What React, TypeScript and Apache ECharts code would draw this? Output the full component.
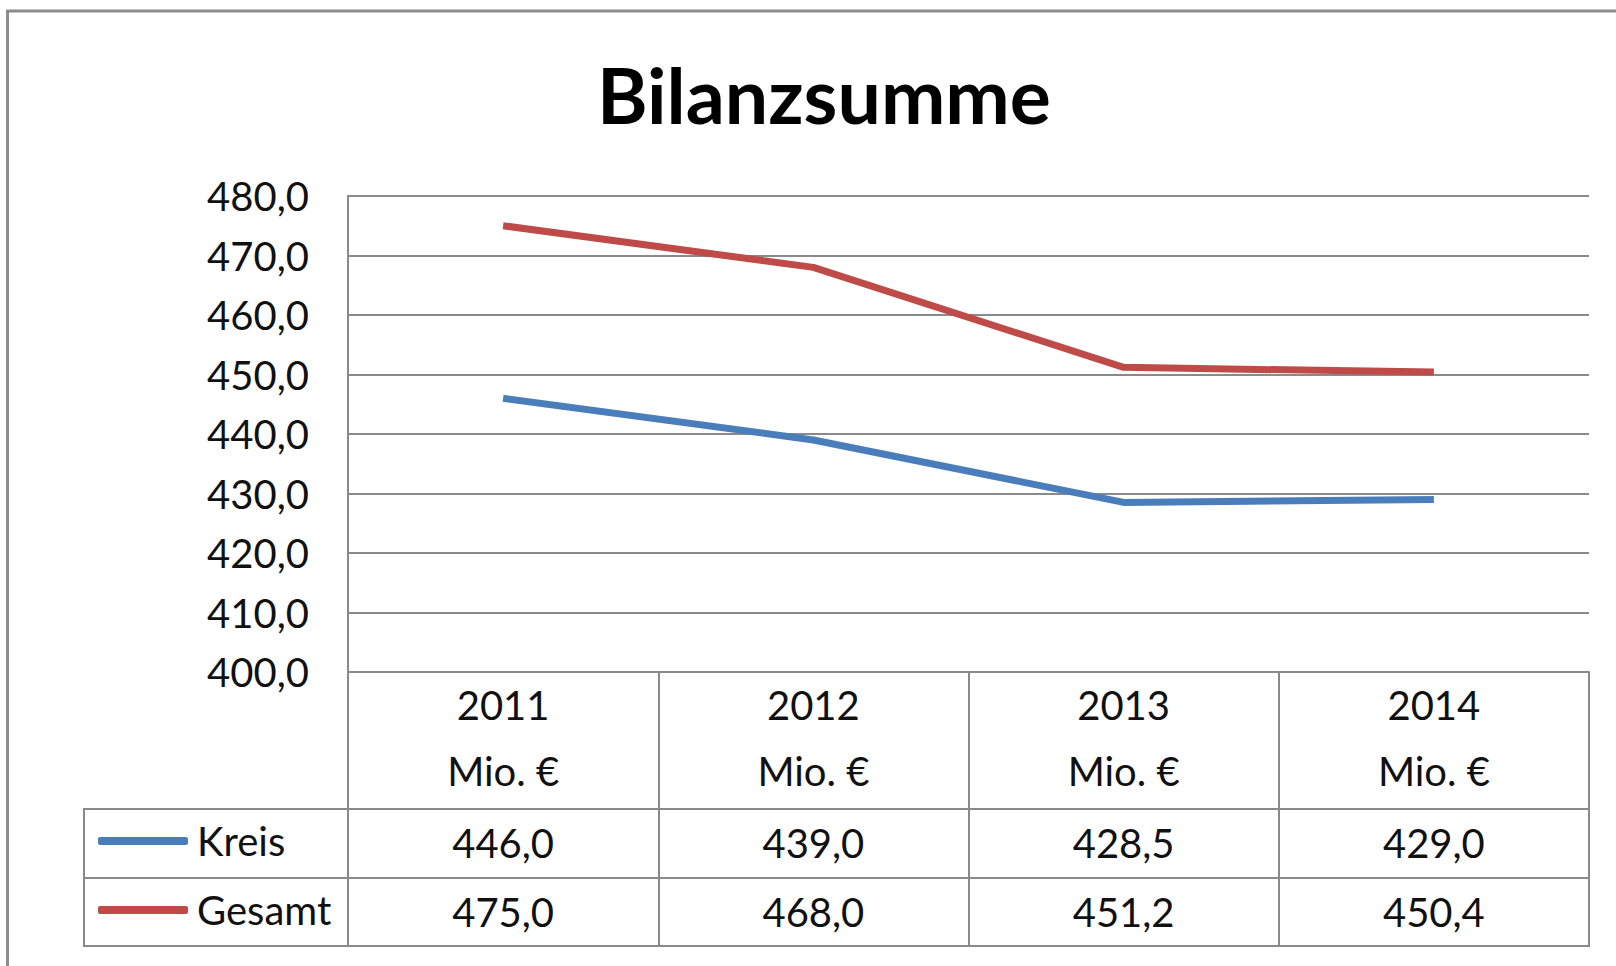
import React, { useEffect, useRef } from "react";
import * as echarts from "echarts";

const years = ["2011", "2012", "2013", "2014"];
const unit = "Mio. €";
const kreis = [446.0, 439.0, 428.5, 429.0];
const gesamt = [475.0, 468.0, 451.2, 450.4];
const seriesNames = ["Kreis", "Gesamt"];
const yMin = 400;
const yMax = 480;
const yStep = 10;

const fmt = (v: number) => v.toFixed(1).replace(".", ",");

const FONT = "Lato";
const GRAY = "#8a8a8a";
const TXT = "#111111";
const BLUE = "#4A7EBB";
const RED = "#BE4B48";
const FS = 40;

export default function App() {
  const ref = useRef<HTMLDivElement>(null);
  useEffect(() => {
    if (!ref.current) return;
    const chart = echarts.init(ref.current, null, { renderer: "svg" });
    const gridLeft = 348;
    const gridRight = 1589;
    const gridTop = 196;
    const gridBottom = 672;
    const rowTop = 809;
    const rowMid = 878;
    const rowBottom = 946;
    const tableLeft = 84;
    chart.setOption({
      animation: false,
      backgroundColor: "#ffffff",
      title: {
        text: "Bilanzsumme",
        left: 819,
        textAlign: "center",
        top: 50,
        textStyle: { fontFamily: FONT, fontWeight: "bold", fontSize: 77, color: "#000" },
      },
      grid: {
        left: gridLeft,
        top: gridTop,
        width: gridRight - gridLeft,
        height: gridBottom - gridTop,
        containLabel: false,
      },
      legend: {
        orient: "vertical",
        left: 98,
        top: 819,
        padding: 0,
        itemWidth: 90,
        itemHeight: 8,
        itemGap: 25,
        icon: "roundRect",
        data: seriesNames,
        textStyle: { fontFamily: FONT, fontSize: FS, color: TXT, lineHeight: 44, padding: [0, 0, 0, 4] },
      },
      xAxis: [
        {
          type: "category",
          data: years,
          position: "bottom",
          boundaryGap: true,
          axisLine: { show: true, lineStyle: { color: GRAY, width: 2 } },
          axisTick: { show: true, interval: 0, length: rowBottom - gridBottom, lineStyle: { color: GRAY, width: 2 } },
          axisLabel: {
            interval: 0,
            margin: 0,
            formatter: (v: string) => `{y|${v}}\n{m|${unit}}`,
            rich: {
              y: { fontFamily: FONT, fontSize: FS, color: TXT, lineHeight: 66 },
              m: { fontFamily: FONT, fontSize: FS, color: TXT, lineHeight: 66 },
            },
          },
        },
        {
          type: "category",
          data: kreis.map(fmt),
          position: "bottom",
          offset: rowTop - gridBottom,
          boundaryGap: true,
          axisLine: { show: false },
          axisTick: { show: false },
          axisLabel: { interval: 0, margin: 12, fontFamily: FONT, fontSize: FS, color: TXT, lineHeight: 44 },
        },
        {
          type: "category",
          data: gesamt.map(fmt),
          position: "bottom",
          offset: rowMid - gridBottom,
          boundaryGap: true,
          axisLine: { show: false },
          axisTick: { show: false },
          axisLabel: { interval: 0, margin: 12, fontFamily: FONT, fontSize: FS, color: TXT, lineHeight: 44 },
        },
      ],
      yAxis: {
        type: "value",
        min: yMin,
        max: yMax,
        interval: yStep,
        axisLine: { show: true, lineStyle: { color: GRAY, width: 2 } },
        axisTick: { show: false },
        splitLine: { show: true, lineStyle: { color: GRAY, width: 2 } },
        axisLabel: { margin: 39, fontFamily: FONT, fontSize: FS, color: TXT, formatter: (v: number) => fmt(v) },
      },
      series: [
        {
          name: seriesNames[0],
          type: "line",
          data: kreis,
          symbol: "none",
          lineStyle: { color: BLUE, width: 7 },
          itemStyle: { color: BLUE },
        },
        {
          name: seriesNames[1],
          type: "line",
          data: gesamt,
          symbol: "none",
          lineStyle: { color: RED, width: 7 },
          itemStyle: { color: RED },
        },
      ],
      graphic: [
        {
          type: "rect",
          shape: { x: 7.5, y: 11, width: 1700, height: 1100 },
          style: { fill: "none", stroke: "#8c8c8c", lineWidth: 3 },
          silent: true,
        },
        {
          type: "rect",
          shape: { x: tableLeft, y: rowTop, width: gridRight - tableLeft, height: rowBottom - rowTop },
          style: { fill: "none", stroke: GRAY, lineWidth: 2 },
          silent: true,
        },
        {
          type: "line",
          shape: { x1: tableLeft, y1: rowMid, x2: gridRight, y2: rowMid },
          style: { stroke: GRAY, lineWidth: 2 },
          silent: true,
        },
      ],
    });
    return () => chart.dispose();
  }, []);
  return (
    <div
      ref={ref}
      style={{ position: "fixed", left: 0, top: 0, width: 1616, height: 966, background: "#fff" }}
    />
  );
}
